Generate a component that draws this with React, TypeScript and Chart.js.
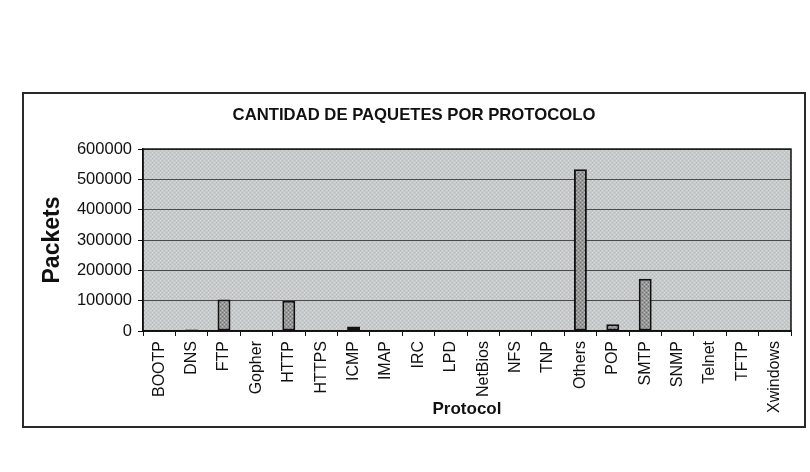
import React, { useEffect, useRef } from "react";
import { Chart, registerables } from "chart.js";

Chart.register(...registerables);

const chartTitle = "CANTIDAD DE PAQUETES POR PROTOCOLO";
const xTitle = "Protocol";
const yTitle = "Packets";

const categories = [
  "BOOTP", "DNS", "FTP", "Gopher", "HTTP", "HTTPS", "ICMP", "IMAP", "IRC", "LPD",
  "NetBios", "NFS", "TNP", "Others", "POP", "SMTP", "SNMP", "Telnet", "TFTP", "Xwindows",
];
const packets = [
  0, 5000, 104000, 0, 100000, 0, 15000, 0, 0, 0,
  0, 0, 0, 533000, 22000, 172000, 0, 3000, 0, 0,
];
const yMin = 0;
const yMax = 600000;
const yStep = 100000;

const FONT = "'Liberation Sans', Arial, sans-serif";

function makePattern(base: string, dot: string, dot2: string): CanvasPattern | string {
  const c = document.createElement("canvas");
  c.width = 4;
  c.height = 4;
  const g = c.getContext("2d");
  if (!g) return base;
  g.fillStyle = base;
  g.fillRect(0, 0, 4, 4);
  g.fillStyle = dot;
  g.fillRect(0, 0, 1, 1);
  g.fillRect(2, 2, 1, 1);
  g.fillStyle = dot2;
  g.fillRect(2, 0, 1, 1);
  g.fillRect(0, 2, 1, 1);
  const p = g.createPattern(c, "repeat");
  return p || base;
}

export default function App() {
  const ref = useRef<HTMLCanvasElement | null>(null);

  useEffect(() => {
    const canvas = ref.current;
    if (!canvas) return;
    const plotFill = makePattern("#c6c9c9", "#dcdede", "#b9bcbc");
    const barFill = makePattern("#969696", "#c0c0c0", "#707070");

    const framePlugin = {
      id: "frame",
      beforeDraw(chart: any) {
        const { ctx, chartArea: a } = chart;
        ctx.save();
        ctx.fillStyle = "#ffffff";
        ctx.fillRect(0, 0, chart.width, chart.height);
        ctx.fillStyle = plotFill;
        ctx.fillRect(a.left, a.top, a.right - a.left, a.bottom - a.top);
        ctx.restore();
      },
      afterDraw(chart: any) {
        const { ctx, chartArea: a } = chart;
        ctx.save();
        ctx.strokeStyle = "#111111";
        ctx.lineWidth = 1.5;
        ctx.strokeRect(a.left, a.top, a.right - a.left, a.bottom - a.top);
        ctx.strokeStyle = "#2a2a2a";
        ctx.lineWidth = 2;
        ctx.strokeRect(23, 93, 782, 334);
        ctx.restore();
      },
    };

    const chart = new Chart(canvas, {
      type: "bar",
      data: {
        labels: categories,
        datasets: [
          {
            label: yTitle,
            data: packets,
            backgroundColor: barFill as any,
            borderColor: "#111111",
            borderWidth: 2,
            borderSkipped: false,
            barPercentage: 0.4,
            categoryPercentage: 1.0,
          },
        ],
      },
      options: {
        animation: false,
        responsive: false,
        devicePixelRatio: 1,
        layout: { padding: { left: 37, right: 19, top: 0, bottom: 0 } },
        plugins: {
          legend: { display: false },
          tooltip: { enabled: false },
          title: {
            display: true,
            text: chartTitle,
            color: "#111111",
            font: { family: FONT, size: 16.7, weight: "bold" },
            padding: { top: 105, bottom: 24 },
          },
        },
        scales: {
          x: {
            grid: {
              display: true,
              drawOnChartArea: false,
              drawTicks: true,
              tickLength: 5,
              tickColor: "#111111",
              offset: true,
            },
            border: { display: true, color: "#111111", width: 1.5 },
            ticks: {
              autoSkip: false,
              minRotation: 90,
              maxRotation: 90,
              padding: 5,
              color: "#111111",
              font: { family: FONT, size: 16 },
            },
            title: {
              display: true,
              text: xTitle,
              color: "#111111",
              font: { family: FONT, size: 17, weight: "bold" },
              padding: { top: 0, bottom: 52 },
            },
            afterFit(scale: any) {
              scale.height = 141;
            },
          },
          y: {
            min: yMin,
            max: yMax,
            grid: {
              color: "#4a4a4a",
              lineWidth: 1,
              drawTicks: true,
              tickLength: 5,
              tickColor: "#111111",
            },
            border: { display: true, color: "#111111", width: 1.5 },
            ticks: {
              stepSize: yStep,
              padding: 6,
              color: "#111111",
              font: { family: FONT, size: 16.5 },
              callback: (v: any) => String(v),
            },
            title: {
              display: true,
              text: yTitle,
              color: "#111111",
              font: { family: FONT, size: 23, weight: "bold" },
              padding: { top: 2, bottom: 0 },
            },
            afterFit(scale: any) {
              scale.width = 106;
            },
          },
        },
      },
      plugins: [framePlugin],
    });

    return () => {
      chart.destroy();
    };
  }, []);

  return (
    <div style={{ position: "fixed", left: 0, top: 0, width: 810, height: 472, background: "#fff" }}>
      <canvas ref={ref} width={810} height={472} style={{ display: "block" }} />
    </div>
  );
}
